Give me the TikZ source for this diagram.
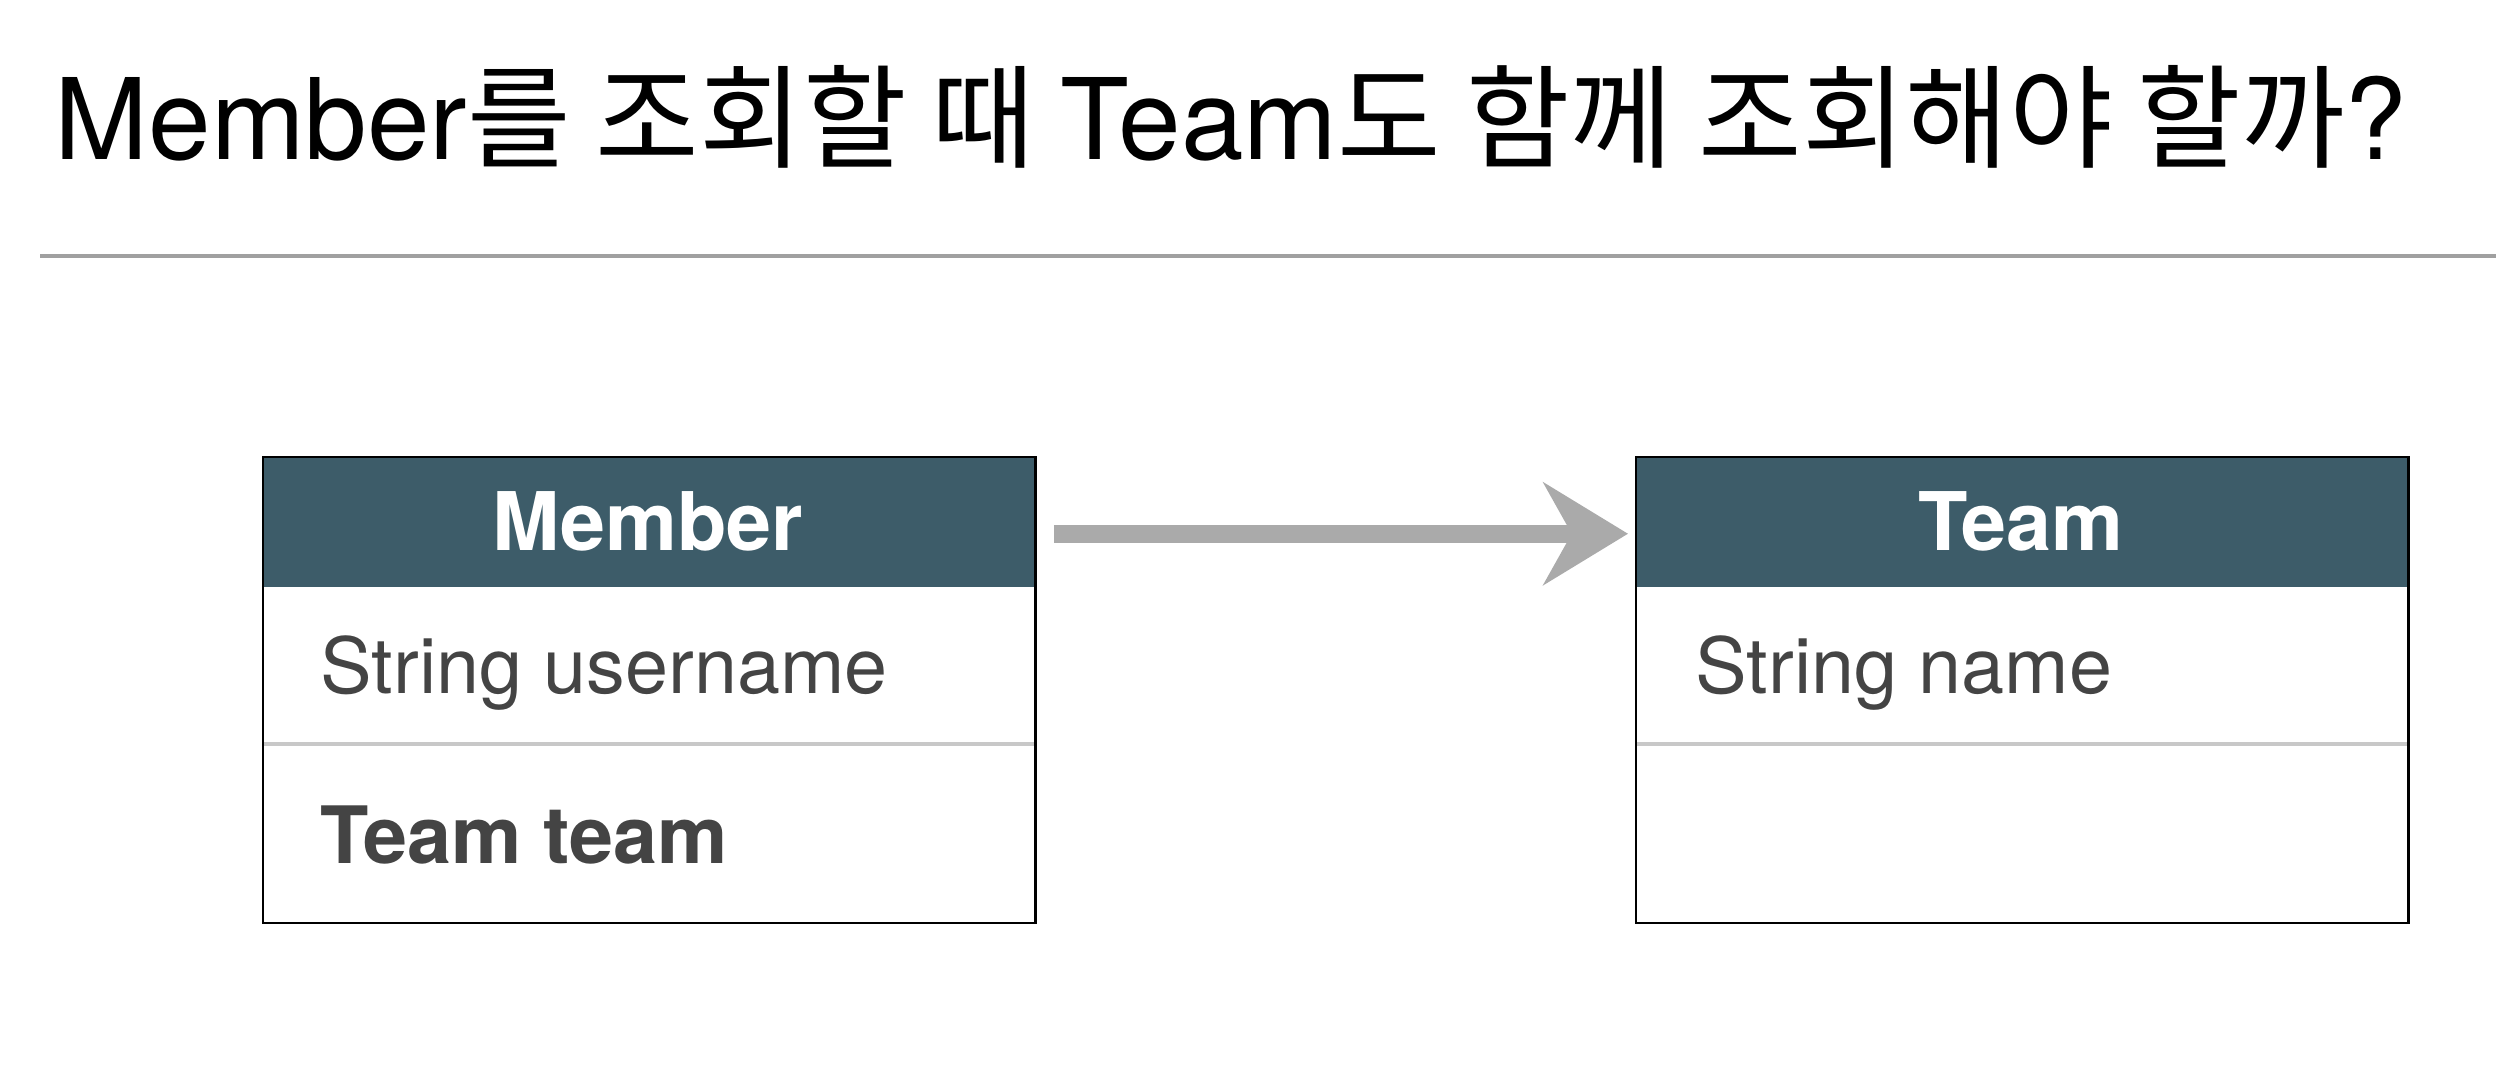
\documentclass[tikz,border=0pt]{standalone}
\usepackage{fontspec}
\setmainfont{TeX Gyre Heros}
\newfontfamily\krfont{Noto Sans CJK KR}
\newfontfamily\latfont{TeX Gyre Heros}
\usetikzlibrary{arrows.meta,calc}
\definecolor{hdrcol}{HTML}{3D5C69}
\definecolor{txtcol}{HTML}{444444}
\definecolor{arrcol}{HTML}{AAAAAA}
\definecolor{rulecol}{HTML}{A0A0A0}
\definecolor{divcol}{HTML}{C8C8C8}
\tikzset{
  frame/.style={draw=black, line width=0.6pt, fill=none, minimum width=77.2mm, minimum height=46.6mm, anchor=north west, inner sep=0pt},
  headbox/.style={fill=hdrcol, minimum width=77.2mm, minimum height=13mm, anchor=north west, inner sep=0pt},
  headtext/.style={anchor=base, inner sep=0pt, text=white, font=\bfseries\fontsize{23pt}{27pt}\selectfont},
  fieldtext/.style={anchor=base west, inner sep=0pt, text=txtcol, font=\fontsize{22pt}{26pt}\selectfont},
  fieldbold/.style={fieldtext, font=\bfseries\fontsize{22.5pt}{26pt}\selectfont},
  divider/.style={draw=divcol, line width=1.2pt},
  sketcharrow/.style={draw=arrcol, line width=5pt, -{Stealth[length=24pt, width=29pt, inset=8pt]}},
}
\begin{document}
\begin{tikzpicture}[x=0.01cm, y=-0.01cm]
\useasboundingbox (0,0) rectangle (2496,1076);
% title
\node[anchor=base west, inner sep=0pt, font=\fontsize{32pt}{38pt}\selectfont] (title) at (54,160)
  {{\latfont Member}{\krfont 를 조회할 때 }{\latfont Team}{\krfont 도 함께 조회해야 할까}{\latfont ?}};
\coordinate (ruleL) at (40,256);
\coordinate (ruleR) at (2496,256);
\draw[rulecol, line width=1pt] (ruleL) -- (ruleR);
% Member box
\node[headbox] (memberhead) at (262,456) {};
\coordinate (mdivL) at (262,744);
\coordinate (mdivR) at (1034,744);
\draw[divider] (mdivL) -- (mdivR);
\node[frame] (memberframe) at (262,456) {};
\node[headtext] (membertitle) at (648,550) {Member};
\node[fieldtext] (muser) at (320,693) {String username};
\node[fieldbold] (mteam) at (320,863) {Team team};
% Team box
\node[headbox] (teamhead) at (1635,456) {};
\coordinate (tdivL) at (1635,744);
\coordinate (tdivR) at (2407,744);
\draw[divider] (tdivL) -- (tdivR);
\node[frame] (teamframe) at (1635,456) {};
\node[headtext] (teamtitle) at (2021,550) {Team};
\node[fieldtext] (tname) at (1695,693) {String name};
% arrow
\draw[sketcharrow] ($(memberhead.east)+(18,12)$) -- ($(teamhead.west)+(-7,12)$);
\end{tikzpicture}
\end{document}
